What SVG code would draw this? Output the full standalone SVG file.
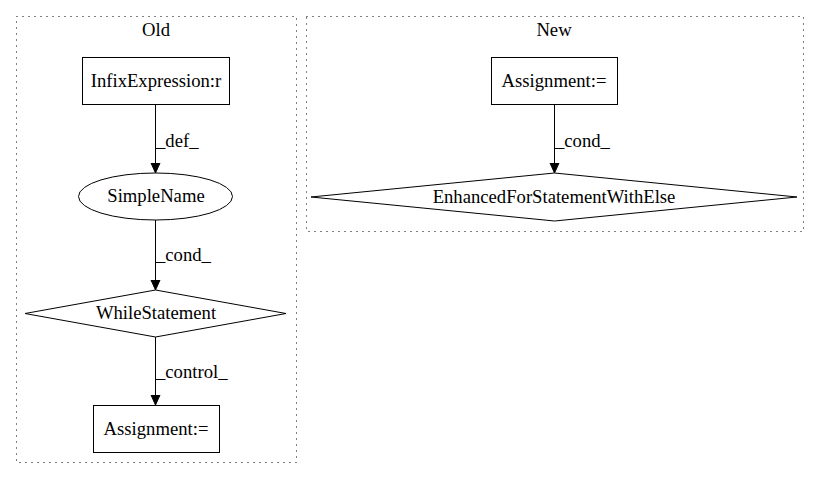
<svg xmlns="http://www.w3.org/2000/svg" width="819" height="480" viewBox="0 0 819 480">
  <style>
    .cluster { fill: none; stroke: #000; stroke-width: 1; stroke-dasharray: 1 5; }
    .node { fill: #fff; stroke: #000; stroke-width: 1; }
    .edge { fill: none; stroke: #000; stroke-width: 1; }
  </style>
  <defs>
    <marker id="arrow" markerWidth="10" markerHeight="12" refX="10" refY="6" orient="auto" markerUnits="userSpaceOnUse">
      <path d="M0,1.5 L10,6 L0,10.5 Z" fill="#000" stroke="#000"/>
    </marker>
  </defs>
  <rect width="819" height="480" fill="#fff"/>

  <g font-family="'Liberation Serif', 'Times New Roman', serif" font-size="18.67" fill="#000">
    <!-- clusters -->
    <g id="cluster-old">
      <rect class="cluster" x="16.5" y="16.5" width="280" height="446"/>
      <text x="156" y="36" text-anchor="middle">Old</text>
    </g>
    <g id="cluster-new">
      <rect class="cluster" x="306.5" y="16.5" width="497" height="215"/>
      <text x="554" y="36" text-anchor="middle">New</text>
    </g>

    <!-- connectors -->
    <g id="edges">
      <path class="edge" d="M155.5,105 L155.5,173" marker-end="url(#arrow)"/>
      <text x="156" y="147">_def_</text>
      <path class="edge" d="M155.5,220 L155.5,290" marker-end="url(#arrow)"/>
      <text x="156" y="261">_cond_</text>
      <path class="edge" d="M155.5,337 L155.5,405" marker-end="url(#arrow)"/>
      <text x="156" y="378">_control_</text>
      <path class="edge" d="M554.5,105 L554.5,173" marker-end="url(#arrow)"/>
      <text x="555" y="147">_cond_</text>
    </g>

    <!-- Old nodes -->
    <g id="infix-expression">
      <rect class="node" x="82.5" y="57.5" width="147" height="47"/>
      <text x="156" y="87" text-anchor="middle">InfixExpression:r</text>
    </g>
    <g id="simple-name">
      <ellipse class="node" cx="155.5" cy="196.5" rx="77" ry="23.5"/>
      <text x="156" y="202" text-anchor="middle">SimpleName</text>
    </g>
    <g id="while-statement">
      <polygon class="node" points="155.5,290 286,313.5 155.5,337 25,313.5"/>
      <text x="156" y="319" text-anchor="middle">WhileStatement</text>
    </g>
    <g id="assignment-old">
      <rect class="node" x="93.5" y="405.5" width="126" height="47"/>
      <text x="156" y="435" text-anchor="middle">Assignment:=</text>
    </g>

    <!-- New nodes -->
    <g id="assignment-new">
      <rect class="node" x="491.5" y="57.5" width="126" height="47"/>
      <text x="554" y="87" text-anchor="middle">Assignment:=</text>
    </g>
    <g id="enhanced-for">
      <polygon class="node" points="554.5,173 797,197 554.5,221 311,197"/>
      <text x="554" y="203" text-anchor="middle">EnhancedForStatementWithElse</text>
    </g>
  </g>
</svg>
